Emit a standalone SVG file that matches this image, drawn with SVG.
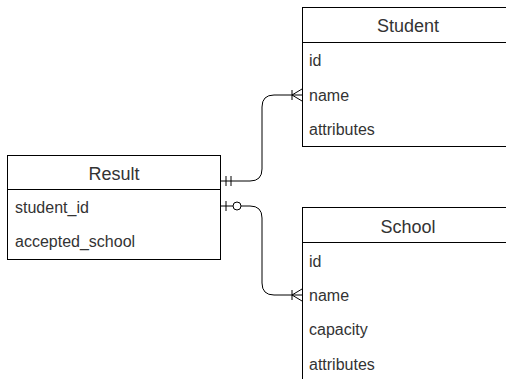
<svg xmlns="http://www.w3.org/2000/svg" width="506" height="379" viewBox="0 0 506 379">
<style>
.box{fill:#fff;stroke:#000;stroke-width:1}
.hl{stroke:#000;stroke-width:1}
.h{font-family:"Liberation Sans",Arial,sans-serif;font-size:18px;fill:#333;text-anchor:middle}
.r{font-family:"Liberation Sans",Arial,sans-serif;font-size:16px;fill:#333}
.c{fill:none;stroke:#000;stroke-width:1}
</style>
<rect width="506" height="379" fill="#fff"/>
<g id="connectors">
<path class="c" d="M221,181 H250 Q262,181 262,169 V107 Q262,95 274,95 H302"/>
<path class="c" d="M226,176 V186 M231,176 V186"/>
<path class="c" d="M292,90 V100 M292,95 L302,89 M292,95 L302,101"/>
<path class="c" d="M221,206 H250 Q262,206 262,218 V283 Q262,295 274,295 H302"/>
<path class="c" d="M226,201 V211"/>
<circle cx="237" cy="206" r="4" fill="#fff" stroke="#000"/>
<path class="c" d="M292,290 V300 M292,295 L302,289 M292,295 L302,301"/>
</g>
<g id="student">
<rect class="box" x="302.5" y="7.5" width="210" height="139"/>
<line class="hl" x1="302.5" y1="42.5" x2="512" y2="42.5"/>
<text class="h" x="408" y="32">Student</text>
<text class="r" x="309" y="66">id</text>
<text class="r" x="309" y="101">name</text>
<text class="r" x="309" y="135">attributes</text>
</g>
<g id="school">
<rect class="box" x="302.5" y="207.5" width="210" height="200"/>
<line class="hl" x1="302.5" y1="242.5" x2="512" y2="242.5"/>
<text class="h" x="408" y="233">School</text>
<text class="r" x="309" y="267">id</text>
<text class="r" x="309" y="301">name</text>
<text class="r" x="309" y="335">capacity</text>
<text class="r" x="309" y="370">attributes</text>
</g>
<g id="result">
<rect class="box" x="7.5" y="155.5" width="213" height="104"/>
<line class="hl" x1="7.5" y1="189.5" x2="220.5" y2="189.5"/>
<text class="h" x="114" y="180">Result</text>
<text class="r" x="15" y="213">student_id</text>
<text class="r" x="15" y="247">accepted_school</text>
</g>
</svg>
